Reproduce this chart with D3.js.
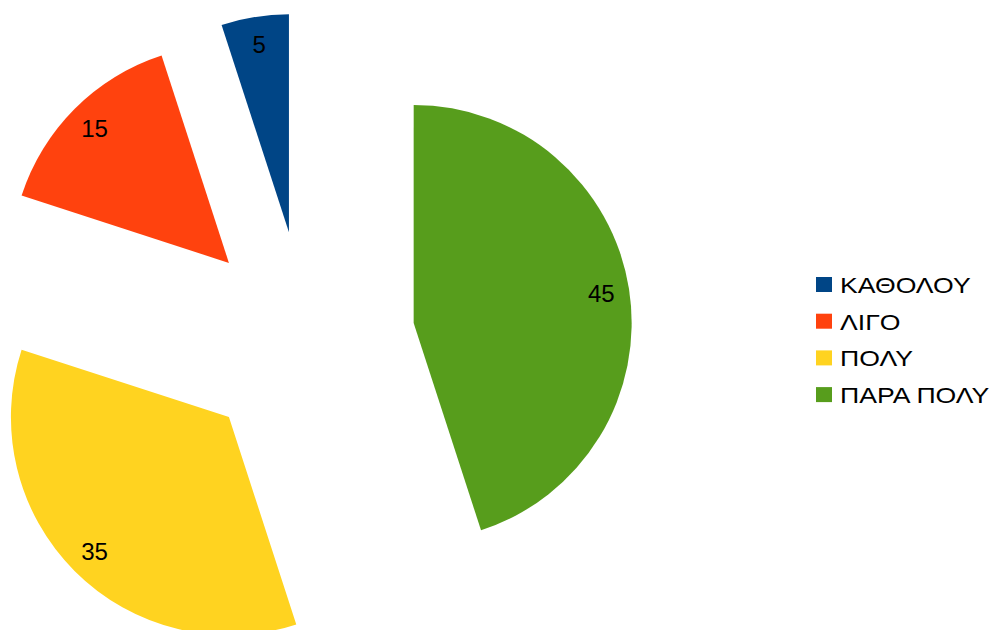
<!DOCTYPE html>
<html>
<head>
<meta charset="utf-8">
<script src="https://cdn.jsdelivr.net/npm/d3@7/dist/d3.min.js"></script>
<style>
  html, body { margin: 0; padding: 0; background: #fff; }
  svg { display: block; font-family: "Liberation Sans", Arial, sans-serif; }
</style>
</head>
<body>
<svg id="chart" width="997" height="630"></svg>
<script>
// Survey answers and their shares
const categories = ["ΚΑΘΟΛΟΥ", "ΛΙΓΟ", "ΠΟΛΥ", "ΠΑΡΑ ΠΟΛΥ"];
const values = [5, 15, 35, 45];
const colors = ["#004586", "#ff420e", "#ffd320", "#579d1c"];

const width = 997, height = 630;
const cx = 306, cy = 340;
const radius = 218;
const explode = 109;
const labelDist = 190;

const svg = d3.select("#chart");

// Slices run counter-clockwise from 12 o'clock
const pie = d3.pie()
  .value(d => d.value)
  .sort(null)
  .startAngle(0)
  .endAngle(-2 * Math.PI);

const data = categories.map((c, i) => ({ cat: c, value: values[i], color: colors[i] }));
const arcs = pie(data);

const arc = d3.arc().innerRadius(0).outerRadius(radius);

const g = svg.append("g").attr("transform", `translate(${cx},${cy})`);

const slice = g.selectAll("g.slice")
  .data(arcs)
  .join("g")
  .attr("class", "slice")
  .attr("transform", d => {
    const mid = (d.startAngle + d.endAngle) / 2;
    return `translate(${explode * Math.sin(mid)},${-explode * Math.cos(mid)})`;
  });

slice.append("path")
  .attr("d", arc)
  .attr("fill", d => d.data.color);

slice.append("text")
  .attr("x", d => labelDist * Math.sin((d.startAngle + d.endAngle) / 2))
  .attr("y", d => -labelDist * Math.cos((d.startAngle + d.endAngle) / 2))
  .attr("text-anchor", "middle")
  .attr("dominant-baseline", "central")
  .attr("font-size", 24)
  .attr("fill", "#000")
  .text(d => d.data.value);

// Legend
const legend = svg.append("g").attr("transform", "translate(816,277)");
const item = legend.selectAll("g.item")
  .data(data)
  .join("g")
  .attr("class", "item")
  .attr("transform", (d, i) => `translate(0,${i * 36.7})`);

item.append("rect")
  .attr("width", 16)
  .attr("height", 15)
  .attr("fill", d => d.color);

item.append("text")
  .attr("transform", "translate(24,16) scale(1.21,1)")
  .attr("font-size", 22)
  .attr("fill", "#000")
  .text(d => d.cat);
</script>
</body>
</html>
